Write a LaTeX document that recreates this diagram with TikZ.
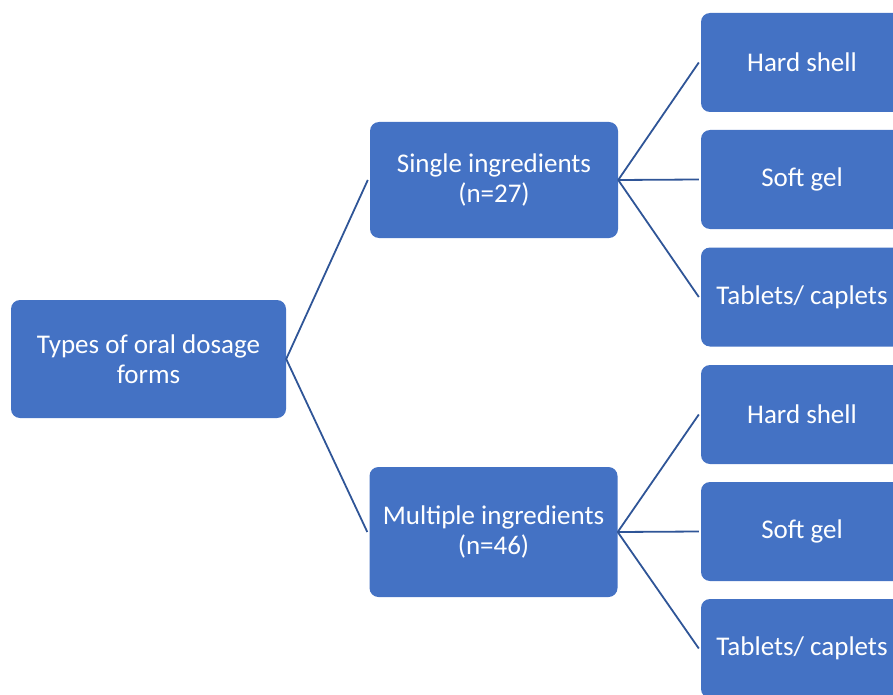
\documentclass[tikz,border=0pt]{standalone}
\usepackage{fontspec}
\setmainfont{Carlito}
\definecolor{boxblue}{HTML}{4472C4}
\definecolor{linkblue}{HTML}{2F5597}
\tikzset{
  box/.style={rectangle, rounded corners=9pt, fill=boxblue, draw=none, text=white,
    font=\fontsize{27}{30}\selectfont, align=center, inner sep=0pt},
  rootbox/.style={box, minimum width=275pt, minimum height=118pt},
  midbox/.style={box, minimum width=248pt},
  leafbox/.style={box, minimum width=202pt, minimum height=99pt},
  link/.style={draw=linkblue, line width=1.8pt}
}
\begin{document}
\begin{tikzpicture}[x=1pt,y=-1pt]
\useasboundingbox (0,0) rectangle (893,695);
\clip (0,0) rectangle (893,695);
\node[rootbox] (root) at (148.5,359) {Types of oral dosage\\forms};
\node[midbox, minimum height=116pt] (single) at (494,180) {Single ingredients\\(n=27)};
\node[midbox, minimum height=130pt] (multi) at (493.5,532) {Multiple ingredients\\(n=46)};
\node[leafbox] (s1) at (802,62.5) {Hard shell};
\node[leafbox] (s2) at (802,179.5) {Soft gel};
\node[leafbox] (s3) at (802,297) {Tablets/ caplets};
\node[leafbox] (m1) at (802,414.5) {Hard shell};
\node[leafbox] (m2) at (802,531.5) {Soft gel};
\node[leafbox] (m3) at (802,648.5) {Tablets/ caplets};
\draw[link] ([xshift=-2pt]single.west) -- (root.east) -- ([xshift=-2pt]multi.west);
\draw[link] (single.east) -- ([xshift=-2pt]s1.west);
\draw[link] (single.east) -- ([xshift=-2pt]s2.west);
\draw[link] (single.east) -- ([xshift=-2pt]s3.west);
\draw[link] (multi.east) -- ([xshift=-2pt]m1.west);
\draw[link] (multi.east) -- ([xshift=-2pt]m2.west);
\draw[link] (multi.east) -- ([xshift=-2pt]m3.west);
\end{tikzpicture}
\end{document}
